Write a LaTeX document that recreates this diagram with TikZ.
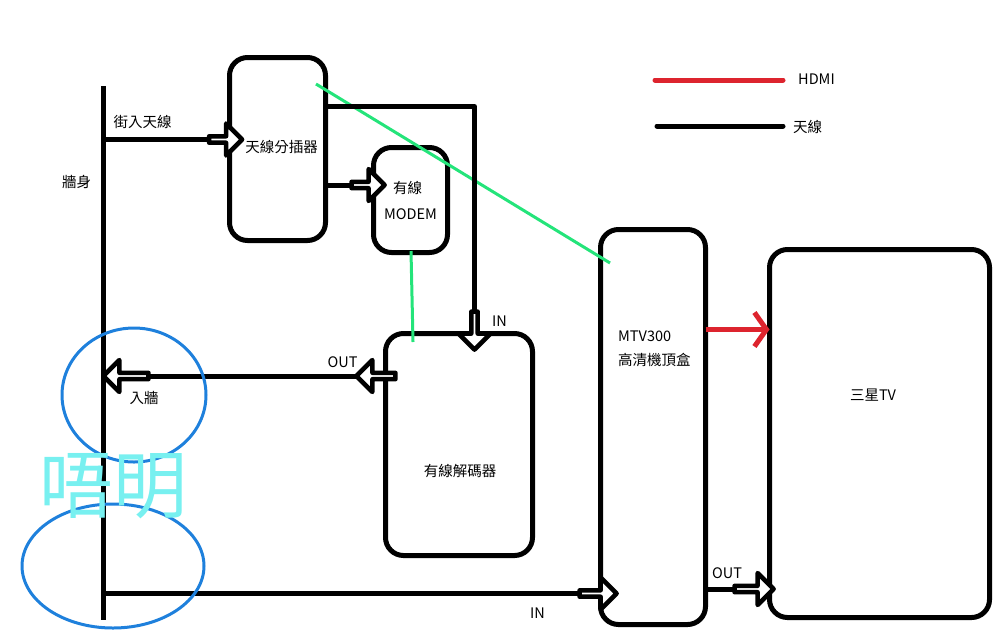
\documentclass[tikz,border=0pt]{standalone}
\usepackage{fontspec}
\setmainfont{Noto Sans CJK TC}
\usetikzlibrary{arrows.meta,shapes.arrows,positioning}
\definecolor{hdmired}{RGB}{221,36,46}
\definecolor{notegreen}{RGB}{36,228,122}
\definecolor{ringblue}{RGB}{30,128,220}
\definecolor{faintcyan}{RGB}{120,240,240}
\tikzset{
  box/.style={draw, line width=5pt, rounded corners=18pt, inner sep=0pt, outer sep=0pt},
  wire/.style={line width=5pt},
  hollow/.style={single arrow, draw, fill=white, line width=4.5pt, minimum width=32pt,
    minimum height=33pt, single arrow head extend=9pt, inner sep=0pt, outer sep=0pt},
  hdmi/.style={draw=hdmired, line width=5pt},
  note/.style={draw=notegreen, line width=3pt},
  ring/.style={draw=ringblue, line width=3pt},
  lbl/.style={font=\fontsize{14.5}{17}\selectfont, inner sep=0pt},
  every picture/.style={line join=round}
}

\begin{document}
\begin{tikzpicture}[x=1pt, y=-1pt]
  \useasboundingbox (0,0) rectangle (1008,630);

  % wall
  \coordinate (wtop) at (103,86);
  \coordinate (wbot) at (103,620);
  \draw[wire] (wtop) -- (wbot);
  \node[lbl] (wall) at (76.5,182) {牆身};

  % boxes
  \node[box, minimum width=96pt, minimum height=183pt] (split) at (277.5,149) {};
  \node[box, minimum width=74pt, minimum height=105pt] (modem) at (410.5,200) {};
  \node[box, minimum width=147pt, minimum height=222pt] (dec) at (459,444.5) {};
  \node[box, minimum width=105pt, minimum height=395pt] (stb) at (653,427) {};
  \node[box, minimum width=220pt, minimum height=368pt] (tv) at (879.5,433.5) {};

  \node[lbl] (splitlbl) at (281.5,147) {天線分插器};
  \node[lbl] (modemlbl1) at (407.5,188) {有線};
  \node[lbl] (modemlbl2) at (410.5,214) {MODEM};
  \node[lbl] (declbl) at (460,471) {有線解碼器};
  \node[lbl, anchor=west] (stblbl1) at (618,336) {MTV300};
  \node[lbl, anchor=west] (stblbl2) at (618,360) {高清機頂盒};
  \node[lbl] (tvlbl) at (873,395) {三星TV};

  % green notes
  \coordinate (g1) at (316,84);
  \coordinate (g2) at (610,263);
  \coordinate (g3) at (411,251);
  \coordinate (g4) at (413,342);
  \draw[note] (g1) -- (g2);
  \draw[note] (g3) -- (g4);

  % hollow arrows
  \node[hollow] (a1) at (224,139.5) {};
  \node[hollow] (a2) at (366.5,185) {};
  \node[hollow, shape border rotate=270, minimum height=38pt] (a3) at (474.5,329) {};
  \node[hollow, shape border rotate=180, minimum height=39pt] (a4) at (377.5,376) {};
  \node[hollow, shape border rotate=180, minimum height=45pt] (a5) at (127.5,376) {};
  \node[hollow, minimum height=37pt] (a6) at (596.5,593.5) {};
  \node[hollow, minimum height=39pt] (a7) at (752.5,589) {};

  % antenna wires
  \coordinate (sp1) at (325.5,106.5);
  \draw[wire] (wtop |- a1) -- (a1.tail);
  \draw[wire] (sp1) -| (a3.tail);
  \draw[wire] (split.east |- a2) -- (a2.tail);
  \draw[wire] (a4.tip) -- (a5.tail);
  \draw[wire] (wtop |- a6) -- (a6.tail);
  \draw[wire] (stb.east |- a7) -- (a7.tail);

  \node[lbl] (street) at (142.5,122) {街入天線};
  \node[lbl] (inwall) at (144,398) {入牆};
  \node[lbl] (decin) at (499.5,321) {IN};
  \node[lbl] (decout) at (342.5,362) {OUT};
  \node[lbl] (stbin) at (537.5,613) {IN};
  \node[lbl] (stbout) at (727,573) {OUT};

  % hdmi
  \coordinate (hd) at (0,329.5);
  \draw[hdmi, -{Straight Barb[length=12pt, width=34pt]}] (stb.east |- hd) -- (tv.west |- hd);

  % legend
  \coordinate (lr1) at (655,80);
  \coordinate (lr2) at (783,80);
  \coordinate (lb1) at (657,126);
  \coordinate (lb2) at (783,126);
  \draw[hdmi, line cap=round] (lr1) -- (lr2);
  \draw[wire, line cap=round] (lb1) -- (lb2);
  \node[lbl, anchor=west] (hdmilbl) at (798,79) {HDMI};
  \node[lbl, anchor=west] (antlbl) at (793,127) {天線};

  % marks
  \draw[ring] (134,395) ellipse [x radius=72pt, y radius=67pt];
  \draw[ring] (113,566) ellipse [x radius=91pt, y radius=62pt];
  \node[font=\fontsize{74}{74}\selectfont, text=faintcyan, inner sep=0pt] (ngm) at (113,486) {唔明};
\end{tikzpicture}
\end{document}
